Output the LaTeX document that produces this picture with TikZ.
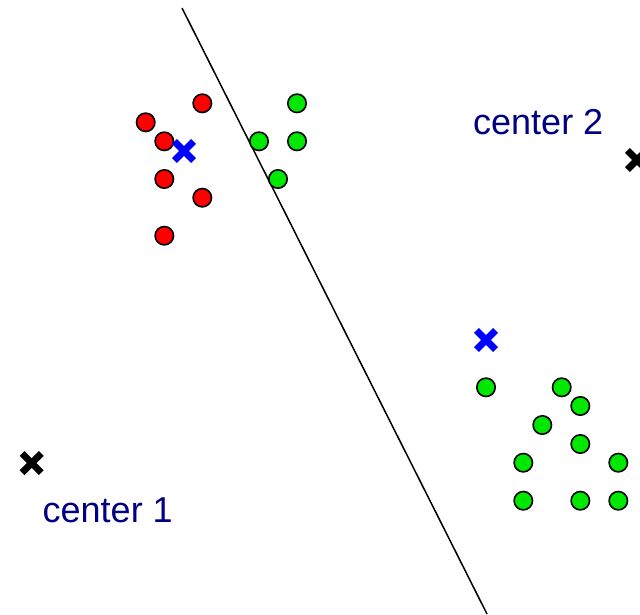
\documentclass[tikz,border=0pt]{standalone}
\usepackage{fontspec}
\setmainfont{Liberation Sans}
\definecolor{ptred}{RGB}{255,0,0}
\definecolor{ptgreen}{RGB}{0,232,0}
\definecolor{navytext}{RGB}{0,0,128}
\definecolor{xblue}{RGB}{0,0,255}
\begin{document}
\begin{tikzpicture}[x=1pt,y=-1pt,
  redpt/.style={circle,draw=black,fill=ptred,line width=1.6pt,minimum size=18.4pt,inner sep=0pt},
  greenpt/.style={circle,draw=black,fill=ptgreen,line width=1.6pt,minimum size=18.4pt,inner sep=0pt},
  lbl/.style={text=navytext,font=\fontsize{36}{40}\selectfont,inner sep=0pt,anchor=base west},
  crossline/.style={line width=6.8pt,line cap=butt}]
\useasboundingbox (0,0) rectangle (640,614);
% separating line
\coordinate (ltop) at (182,8);
\coordinate (lbot) at (487,614);
\draw[line width=1.5pt] (ltop) -- (lbot);
% red points
\foreach \x/\y [count=\i] in {202.3/103.3,145.7/122.3,164.3/141.3,164.3/179,202.3/197.7,164.3/235.7}
  \node[redpt] (r\i) at (\x,\y) {};
% green points top
\foreach \x/\y [count=\i] in {297/103.3,259/141.3,297/141.3,278/179}
  \node[greenpt] (g\i) at (\x,\y) {};
% green points bottom
\foreach \x/\y [count=\i] in {486/387.3,561.7/387.3,580.3/406,542.3/425,580.3/444,523.3/462.7,618.3/462.7,523.3/500.7,580.3/500.7,618.3/500.7}
  \node[greenpt] (h\i) at (\x,\y) {};
% crosses
\foreach \n/\cx/\cy/\col in {b1/184/151/xblue,b2/486/340/xblue,k1/31.7/463/black,k2/637/160/black}{
  \coordinate (\n) at (\cx,\cy);
  \draw[crossline,\col] ([shift={(-9.6,-9.6)}]\n) -- ([shift={(9.6,9.6)}]\n);
  \draw[crossline,\col] ([shift={(-9.6,9.6)}]\n) -- ([shift={(9.6,-9.6)}]\n);
}
% labels
\node[lbl] (c2) at (473,134.3) {center 2};
\node[lbl] (c1) at (42.5,522) {center 1};
\end{tikzpicture}
\end{document}
